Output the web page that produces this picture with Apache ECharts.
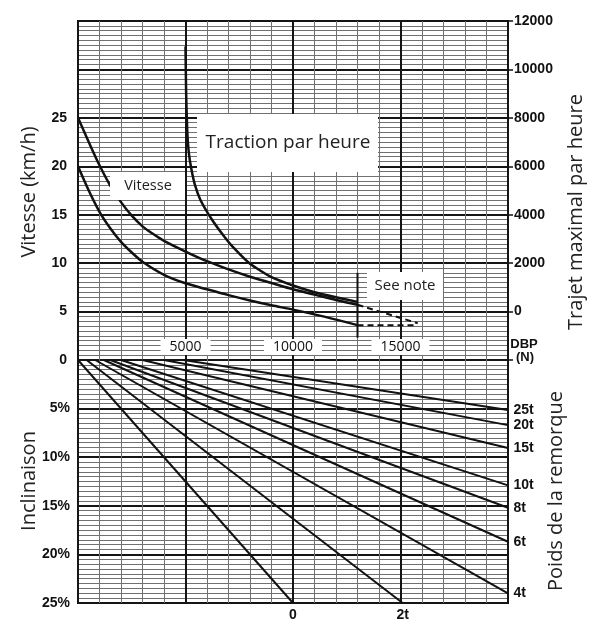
<!DOCTYPE html>
<html><head><meta charset="utf-8">
<script src="https://cdn.jsdelivr.net/npm/echarts@6/dist/echarts.min.js"></script>
<style>html,body{margin:0;padding:0;background:#fff}#c{width:590px;height:620px}</style>
</head><body><div id="c"></div>
<script>
// ---- data ----
const vitesseHautDbp = [0,500,1000,1500,2000,2500,3000,3500,4000,5000,6000,7000,8000,9000,10000,11000,12000,13000];
const vitesseHaut    = [25,22.5,20.1,18.0,16.3,14.9,13.8,13.0,12.3,11.2,10.2,9.35,8.6,7.95,7.3,6.75,6.2,5.7];
const vitesseBasDbp  = [0,500,1000,1500,2000,2500,3000,4000,5000,6000,7000,8000,9000,10000,11500,13000];
const vitesseBas     = [20,17.5,15.3,13.6,12.2,11.1,10.15,8.8,7.92,7.3,6.7,6.15,5.65,5.2,4.45,3.6];
const tractionDbp    = [5000,5030,5080,5150,5270,5450,5700,6250,6800,7200,8000,9000,10000,11000,12000,13000];
const traction       = [10950,9000,7500,6600,5900,5200,4600,3770,3100,2670,1975,1420,1076,800,590,400];
const noteDashHautDbp = [13000,15800];
const noteDashHaut    = [5.7,3.8];
const noteDashBasDbp  = [13000,15700];
const noteDashBas     = [3.6,3.6];
const seeNoteDbp      = [13000,13000];
const seeNoteVitesse  = [9.0,2.3];

const remorqueLabels   = ['0','2t','4t','6t','8t','10t','15t','20t','25t'];
const remorqueStartDbp = [0,400,800,1200,1500,2000,3000,4000,4900];
const remorqueEndDbp   = [10000,15100,20000,20000,20000,20000,20000,20000,20000];
const remorqueEndPente = [25,25,24.0,18.7,15.2,12.9,9.05,6.7,5.15];

const dbpTickLabels = [5000,10000,15000];

// ---- chart ----
const pairs = (xs, ys) => xs.map((x,i)=>[x, ys[i]]);
const major = {show:true, lineStyle:{color:'#151515', width:2}};
const minor = {show:true, lineStyle:{color:'#707070', width:1}};
const tickFont = {fontFamily:'"Liberation Sans", Arial, sans-serif', fontWeight:'bold', fontSize:14, color:'#111'};
const titleFont = '20px "Open Sans", sans-serif';

const remorqueSeries = remorqueLabels.map((lab,i)=>({
  type:'line', xAxisIndex:1, yAxisIndex:2, symbol:'circle', symbolSize:1,
  lineStyle:{color:'#111', width:2}, itemStyle:{color:'#111'},
  data:[
    {value:[remorqueStartDbp[i],0]},
    {value:[remorqueEndDbp[i], remorqueEndPente[i]],
     label:{show:true, position: remorqueEndDbp[i] < 20000 ? 'bottom' : 'right', distance:5,
            formatter: lab, ...tickFont}}
  ]
}));

const option = {
  animation:false,
  grid:[
    {left:78, right:82, top:21, height:339, show:true, borderColor:'#111', borderWidth:2},
    {left:78, right:82, top:360, height:243, show:true, borderColor:'#111', borderWidth:2}
  ],
  xAxis:[
    {gridIndex:0, type:'value', min:0, max:20000, interval:5000, position:'bottom',
     axisLine:{show:false}, axisTick:{show:false},
     axisLabel:{inside:true, margin:5, showMinLabel:false, showMaxLabel:false,
       formatter: v => dbpTickLabels.includes(v) ? String(v) : '',
       fontFamily:'"Open Sans", sans-serif', fontSize:14, color:'#111', backgroundColor:'#fff', padding:[1,9,1,9]},
     splitLine:major, minorTick:{show:false, splitNumber:5}, minorSplitLine:minor},
    {gridIndex:1, type:'value', min:0, max:20000, interval:5000, position:'bottom',
     axisLine:{show:false}, axisTick:{show:false}, axisLabel:{show:false},
     splitLine:major, minorTick:{show:false, splitNumber:5}, minorSplitLine:minor}
  ],
  yAxis:[
    {gridIndex:0, type:'value', min:0, max:35, interval:5,
     axisLine:{show:false}, axisTick:{show:false},
     axisLabel:{formatter: v => v <= 25 ? String(v) : '', margin:11, ...tickFont},
     splitLine:major, minorTick:{show:false, splitNumber:10}, minorSplitLine:minor},
    {gridIndex:0, type:'value', position:'right', min:-2000, max:12000, interval:2000,
     axisLine:{show:false}, axisTick:{show:true, length:5, lineStyle:{color:'#111', width:1.5}},
     axisLabel:{formatter: v => v >= 0 ? String(v) : '', margin:6, ...tickFont},
     splitLine:{show:false}},
    {gridIndex:1, type:'value', inverse:true, min:0, max:25, interval:5,
     axisLine:{show:false}, axisTick:{show:false},
     axisLabel:{formatter: v => v === 0 ? '' : v + '%', margin:8, ...tickFont},
     splitLine:major, minorTick:{show:false, splitNumber:10}, minorSplitLine:minor}
  ],
  series:[
    {type:'line', xAxisIndex:0, yAxisIndex:0, symbol:'none', smooth:0.3, z:5,
     lineStyle:{color:'#111', width:2.5}, data:pairs(vitesseHautDbp, vitesseHaut)},
    {type:'line', xAxisIndex:0, yAxisIndex:0, symbol:'none', smooth:0.3, z:5,
     lineStyle:{color:'#111', width:2.5}, data:pairs(vitesseBasDbp, vitesseBas)},
    {type:'line', xAxisIndex:0, yAxisIndex:1, symbol:'none', smooth:0.2, z:5,
     lineStyle:{color:'#111', width:2.5}, data:pairs(tractionDbp, traction)},
    {type:'line', xAxisIndex:0, yAxisIndex:0, symbol:'none', z:5,
     lineStyle:{color:'#111', width:2, type:[6,4]}, data:pairs(noteDashHautDbp, noteDashHaut)},
    {type:'line', xAxisIndex:0, yAxisIndex:0, symbol:'none', z:5,
     lineStyle:{color:'#111', width:2, type:[6,4]}, data:pairs(noteDashBasDbp, noteDashBas)},
    {type:'line', xAxisIndex:0, yAxisIndex:0, symbol:'none', z:5,
     lineStyle:{color:'#111', width:2}, data:pairs(seeNoteDbp, seeNoteVitesse)},
    ...remorqueSeries
  ],
  graphic:[
    {type:'rect', z:100, shape:{x:197, y:114, width:181, height:58}, style:{fill:'#fff'}},
    {type:'text', z:101, x:288, y:143, style:{text:'Traction par heure', font:'19px "Open Sans", sans-serif', fill:'#222', textAlign:'center', textVerticalAlign:'middle'}},
    {type:'rect', z:100, shape:{x:110, y:172, width:75, height:28}, style:{fill:'#fff'}},
    {type:'text', z:101, x:148, y:186, style:{text:'Vitesse', font:'14.5px "Open Sans", sans-serif', fill:'#222', textAlign:'center', textVerticalAlign:'middle'}},
    {type:'rect', z:100, shape:{x:367, y:272, width:76, height:28}, style:{fill:'#fff'}},
    {type:'text', z:101, x:405, y:286, style:{text:'See note', font:'15px "Open Sans", sans-serif', fill:'#222', textAlign:'center', textVerticalAlign:'middle'}},
    {type:'text', z:101, x:29, y:192, rotation:Math.PI/2, style:{text:'Vitesse (km/h)', font:titleFont, fill:'#222', textAlign:'center', textVerticalAlign:'middle'}},
    {type:'text', z:101, x:29, y:481, rotation:Math.PI/2, style:{text:'Inclinaison', font:titleFont, fill:'#222', textAlign:'center', textVerticalAlign:'middle'}},
    {type:'text', z:101, x:576, y:212, rotation:Math.PI/2, style:{text:'Trajet maximal par heure', font:titleFont, fill:'#222', textAlign:'center', textVerticalAlign:'middle'}},
    {type:'text', z:101, x:556, y:491, rotation:Math.PI/2, style:{text:'Poids de la remorque', font:titleFont, fill:'#222', textAlign:'center', textVerticalAlign:'middle'}},
    {type:'text', z:101, x:524, y:344, style:{text:'DBP', font:'bold 13px "Liberation Sans", Arial, sans-serif', fill:'#111', textAlign:'center', textVerticalAlign:'middle'}},
    {type:'text', z:101, x:525, y:357, style:{text:'(N)', font:'bold 13px "Liberation Sans", Arial, sans-serif', fill:'#111', textAlign:'center', textVerticalAlign:'middle'}}
  ]
};
const chart = echarts.init(document.getElementById('c'), null, {renderer:'canvas'});
chart.setOption(option);
</script></body></html>
